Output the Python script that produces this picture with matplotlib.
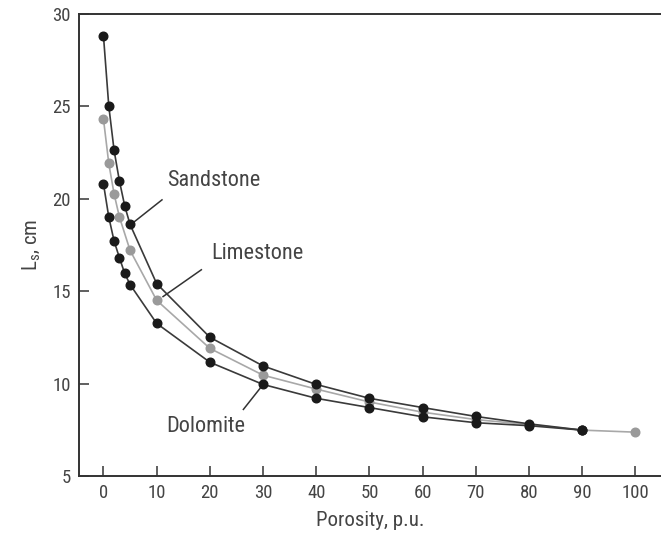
import matplotlib
matplotlib.use("Agg")
import matplotlib.pyplot as plt

# porosity, p.u. and Ls, cm
sand_x = [0, 1, 2, 3, 4, 5, 10, 20, 30, 40, 50, 60, 70, 80, 90]
sand_y = [28.8, 25.0, 22.6, 20.95, 19.6, 18.6, 15.4, 12.5, 10.95, 9.95, 9.2, 8.7, 8.22, 7.82, 7.48]

lime_x = [0, 1, 2, 3, 5, 10, 20, 30, 40, 50, 60, 70, 80, 90, 100]
lime_y = [24.3, 21.9, 20.25, 19.0, 17.2, 14.5, 11.9, 10.45, 9.7, 9.0, 8.45, 8.05, 7.78, 7.48, 7.37]

dolo_x = [0, 1, 2, 3, 4, 5, 10, 20, 30, 40, 50, 60, 70, 80, 90]
dolo_y = [20.8, 19.0, 17.7, 16.8, 15.95, 15.35, 13.25, 11.15, 9.95, 9.2, 8.7, 8.2, 7.88, 7.72, 7.48]

x_ticks = [0, 10, 20, 30, 40, 50, 60, 70, 80, 90, 100]
y_ticks = [5, 10, 15, 20, 25, 30]

font = ["Liberation Sans Narrow", "Roboto Condensed", "DejaVu Sans"]
txt_col = "#444444"
dark = "#1a1a1a"
grey = "#9a9a9a"

fig = plt.figure(figsize=(6.61, 5.44), dpi=100)
ax = fig.add_axes([0.1195, 0.125, 0.8805, 0.85])

ax.plot(sand_x, sand_y, "-", color="#3a3a3a", lw=1.2, marker="o", ms=6.2,
        mfc=dark, mec=dark, zorder=3)
ax.plot(lime_x, lime_y, "-", color="#a8a8a8", lw=1.2, marker="o", ms=6.2,
        mfc=grey, mec=grey, zorder=2)
ax.plot(dolo_x, dolo_y, "-", color="#3a3a3a", lw=1.2, marker="o", ms=6.2,
        mfc=dark, mec=dark, zorder=3)

ax.set_xlim(-4.6, 104.8)
ax.set_ylim(5, 30)
ax.set_xticks(x_ticks)
ax.set_yticks(y_ticks)
ax.tick_params(direction="in", length=7, width=1.2, color="#444444",
               labelsize=13.5, labelcolor=txt_col, pad=6)
for lab in ax.get_xticklabels() + ax.get_yticklabels():
    lab.set_family(font)
    lab.set_stretch("condensed")

for s in ["left", "bottom", "top"]:
    ax.spines[s].set_linewidth(1.4)
    ax.spines[s].set_color("#333333")
ax.spines["right"].set_visible(False)

ax.set_xlabel("Porosity, p.u.", family=font, stretch="condensed", fontsize=15,
              color=txt_col, labelpad=6)
ax.set_ylabel(r"$\mathregular{L_s}$, cm", family=font, stretch="condensed",
              fontsize=15, color=txt_col, labelpad=7)

# curve labels with leader lines
labels = [("Sandstone", (20.65, 20.96), (11.0, 19.93), (5.77, 18.74)),
          ("Limestone", (29.0, 17.02), (18.4, 16.15), (11.2, 14.7)),
          ("Dolomite", (19.3, 7.69), (26.3, 8.6), (29.6, 9.8))]
for name, tpos, p0, p1 in labels:
    ax.text(tpos[0], tpos[1], name, family=font, stretch="condensed", fontsize=16,
            color=txt_col, ha="center", va="center")
    ax.plot([p0[0], p1[0]], [p0[1], p1[1]], color="#333333", lw=1.1)

fig.savefig("out.png", dpi=100)
